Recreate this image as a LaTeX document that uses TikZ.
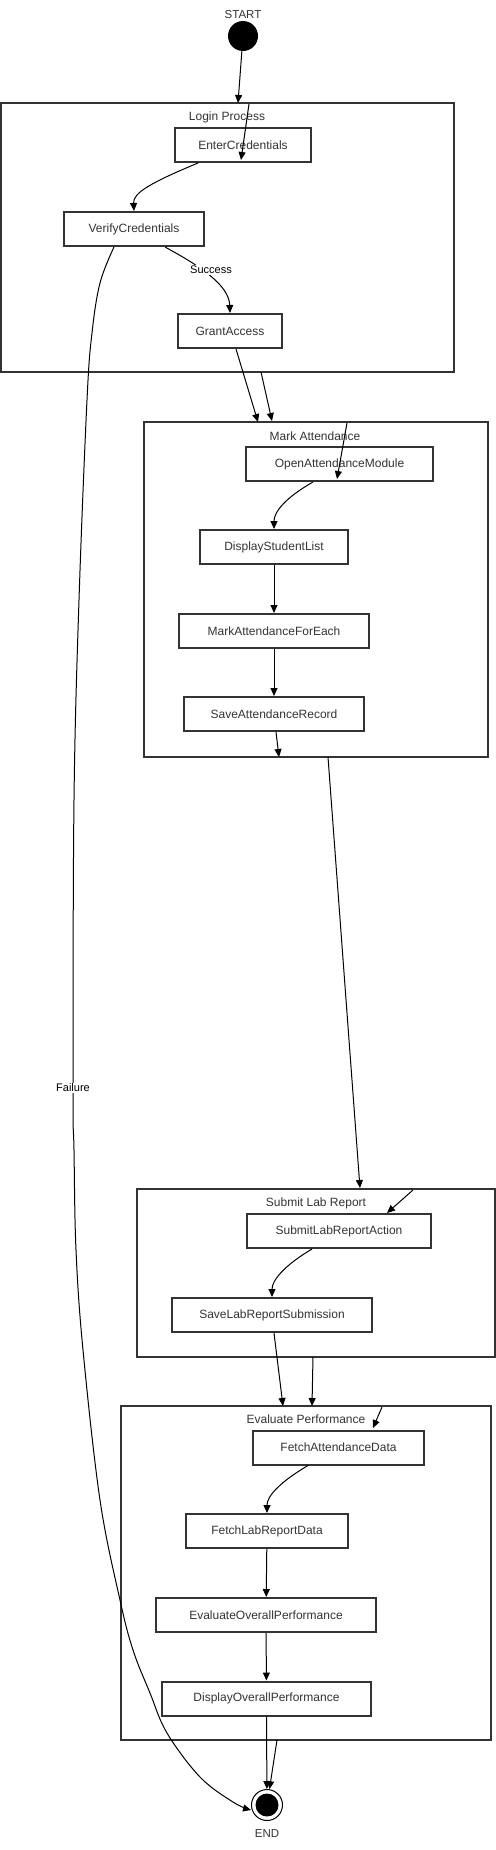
\documentclass[tikz,border=0pt]{standalone}
\usepackage{fontspec}
\setmainfont{Liberation Sans}
\usetikzlibrary{arrows.meta,calc}
\definecolor{ink}{HTML}{333333}
\begin{document}
\begin{tikzpicture}[x=1bp,y=-1bp,
  stepbox/.style={draw=ink, line width=2bp, minimum height=34bp, inner sep=0pt,
    font=\fontsize{12bp}{14bp}\selectfont, text=ink},
  cluster/.style={draw=ink, line width=2bp, inner sep=0pt},
  clabel/.style={font=\fontsize{12bp}{14bp}\selectfont, text=ink, inner sep=0pt},
  elabel/.style={font=\fontsize{11bp}{13bp}\selectfont, text=black, fill=white, inner sep=1bp},
  edge/.style={draw=black, line width=1bp, -{Triangle[length=8bp,width=7bp]}},
  plain/.style={draw=black, line width=1bp}
]
\useasboundingbox (0,0) rectangle (496,1850);

% clusters
\node[cluster, minimum width=452.5bp, minimum height=269bp] (login) at (227.75,237.5) {};
\node[clabel] (loginlbl) at (227,117) {Login Process};
\node[cluster, minimum width=344bp, minimum height=335bp] (mark) at (316,589.5) {};
\node[clabel] (marklbl) at (315,436) {Mark Attendance};
\node[cluster, minimum width=358bp, minimum height=168bp] (submit) at (316.25,1273) {};
\node[clabel] (submitlbl) at (316,1203) {Submit Lab Report};
\node[cluster, minimum width=370bp, minimum height=334bp] (eval) at (306,1573) {};
\node[clabel] (evallbl) at (306,1419) {Evaluate Performance};

% start / end
\node[clabel] (startlbl) at (243,15) {\fontsize{11.5bp}{13bp}\selectfont START};
\node[circle, fill=black, minimum size=30bp, inner sep=0pt] (start) at (243,36) {};
\node[circle, draw=black, line width=1bp, minimum size=31bp, inner sep=0pt] (end) at (267,1805) {};
\node[circle, fill=black, minimum size=23bp, inner sep=0pt] (endin) at (267,1805) {};
\node[clabel] (endlbl) at (267,1834) {\fontsize{11.5bp}{13bp}\selectfont END};

% states
\node[stepbox, minimum width=136bp] (ec) at (243,145) {EnterCredentials};
\node[stepbox, minimum width=140bp] (vc) at (134,229) {VerifyCredentials};
\node[stepbox, minimum width=104bp] (ga) at (230,331) {GrantAccess};
\node[stepbox, minimum width=187bp] (oam) at (339.5,464) {OpenAttendanceModule};
\node[stepbox, minimum width=148bp] (dsl) at (274,547) {DisplayStudentList};
\node[stepbox, minimum width=190bp] (mafe) at (274,631) {MarkAttendanceForEach};
\node[stepbox, minimum width=180bp] (sar) at (274,714) {SaveAttendanceRecord};
\node[stepbox, minimum width=184bp] (slra) at (339,1231) {SubmitLabReportAction};
\node[stepbox, minimum width=200bp] (slrs) at (272,1315) {SaveLabReportSubmission};
\node[stepbox, minimum width=171bp] (fad) at (338.5,1447.5) {FetchAttendanceData};
\node[stepbox, minimum width=162bp] (flrd) at (267,1531) {FetchLabReportData};
\node[stepbox, minimum width=220bp] (eop) at (266,1615) {EvaluateOverallPerformance};
\node[stepbox, minimum width=209bp] (dop) at (266.5,1698.5) {DisplayOverallPerformance};

% free-end coordinates
\coordinate (l1) at (238,103);
\coordinate (l2) at (249,104);
\coordinate (l3) at (241,160);
\coordinate (m1) at (258,422);
\coordinate (m2) at (261,372);
\coordinate (m3) at (272,421);
\coordinate (m4) at (347,423);
\coordinate (m5) at (337,479);
\coordinate (m6) at (279,757);
\coordinate (s1) at (328,757);
\coordinate (s2) at (360,1188);
\coordinate (s3) at (413,1190);
\coordinate (s4) at (387,1213);
\coordinate (e1) at (283,1406);
\coordinate (e2) at (313,1357);
\coordinate (e3) at (312,1406);
\coordinate (e4) at (382,1407);
\coordinate (e5) at (373,1428);
\coordinate (n1) at (277,1740);

% edges
\draw[edge] (start) -- (l1);
\draw[edge] (l2) -- (l3);
\draw[edge] ($(ec.south)+(-45,0)$) .. controls (150,183) and (133,193) .. (vc.north);
\draw[edge] ($(vc.south)+(31,0)$) .. controls (200,266) and (229,285) .. (ga.north);
\node[elabel] (succ) at (211,270) {Success};
\draw[edge] ($(ga.south)+(6,0)$) -- (m1);
\draw[edge] (m2) -- (m3);
\draw[edge] (m4) -- (m5);
\draw[edge] ($(oam.south)+(-26.5,0)$) .. controls (285,498) and (274,512) .. (dsl.north);
\draw[edge] (dsl) -- (mafe);
\draw[edge] (mafe) -- (sar);
\draw[edge] ($(sar.south)+(2,0)$) -- (m6);
\draw[edge] (s1) -- (s2);
\draw[edge] (s3) -- (s4);
\draw[edge] ($(slra.south)+(-27,0)$) .. controls (285,1265) and (272,1280) .. (slrs.north);
\draw[edge] ($(slrs.south)+(2,0)$) -- (e1);
\draw[edge] (e2) -- (e3);
\draw[edge] (e4) -- (e5);
\draw[edge] ($(fad.south)+(-30.5,0)$) .. controls (280,1482) and (267,1496) .. (flrd.north);
\draw[edge] (flrd) -- (eop);
\draw[edge] (eop) -- (dop);
\draw[edge] (dop.south) -- (end);
\draw[edge] (n1) -- (end);
\draw[edge] plot[smooth, tension=0.6] coordinates {($(vc.south)+(-20,0)$) (100,283) (92,333) (87,400) (79,600) (74,800) (73,1088) (74,1150) (76,1250) (83,1350) (100,1500) (120,1600) (133,1650) (150,1693) (167,1733) (200,1777) (233,1802) (251,1810)};
\node[elabel] (fail) at (73,1088) {Failure};
\end{tikzpicture}
\end{document}
